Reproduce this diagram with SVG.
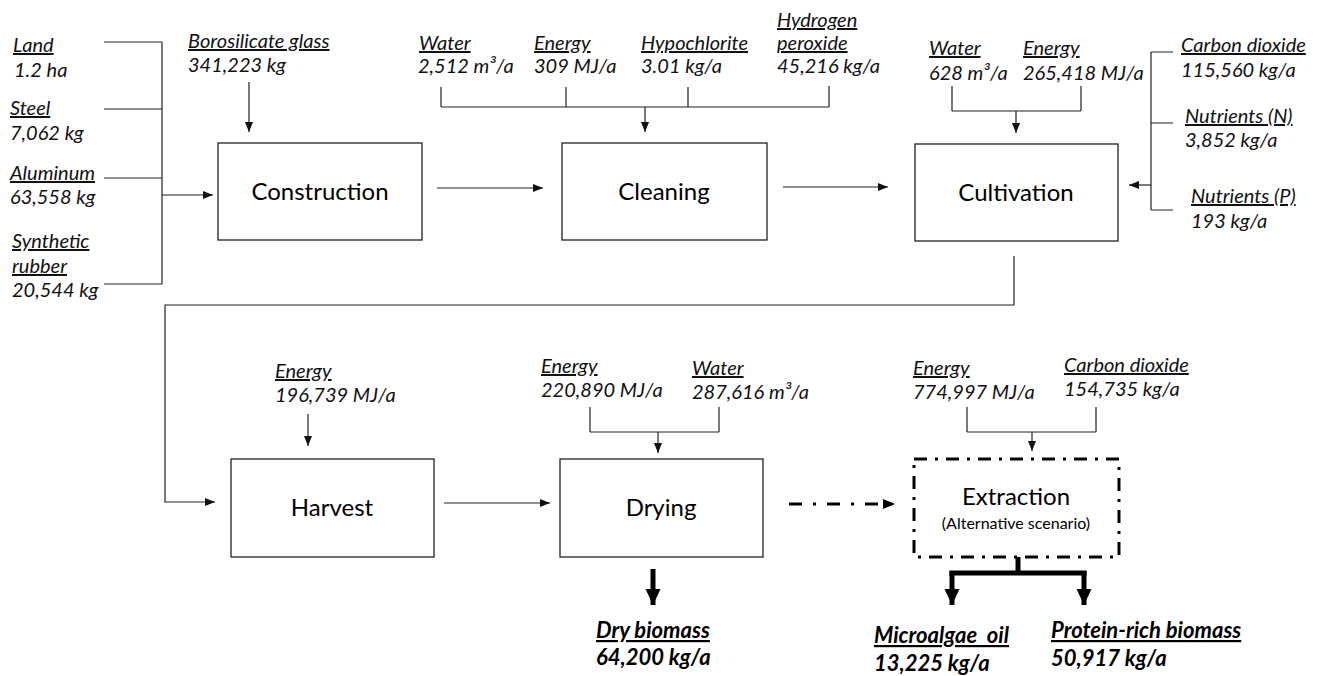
<svg xmlns="http://www.w3.org/2000/svg" width="1317" height="676" viewBox="0 0 1317 676">
<style>
.lbl{font-family:Lato,"Liberation Sans",sans-serif;font-style:italic;font-size:20px;fill:#111}
.u{text-decoration:underline}
.out{font-family:Lato,"Liberation Sans",sans-serif;font-style:italic;font-weight:bold;font-size:22px;fill:#000}
.box{fill:#fff;stroke:#222;stroke-width:1.3}
.dbox{fill:#fff;stroke:#000;stroke-width:3;stroke-dasharray:13 8 3 8}
.name{font-family:Lato,"Liberation Sans",sans-serif;font-size:24px;fill:#000;text-anchor:middle}
.sub{font-family:Lato,"Liberation Sans",sans-serif;font-size:16px;fill:#000;text-anchor:middle}
.ln{fill:none;stroke:#222;stroke-width:1.2}
.ar{fill:none;stroke:#222;stroke-width:1.2;marker-end:url(#ah)}
.thick{fill:none;stroke:#000;stroke-width:5}
.tar{fill:none;stroke:#000;stroke-width:5;marker-end:url(#th)}
.dd{fill:none;stroke:#000;stroke-width:3;stroke-dasharray:13 11 3 11;marker-end:url(#dh)}
</style>
<defs>
<marker id="ah" markerUnits="userSpaceOnUse" markerWidth="10" markerHeight="10" viewBox="0 0 10 10" refX="10" refY="5" orient="auto"><path d="M0,1 L10,5 L0,9 Z" fill="#111"/></marker>
<marker id="th" markerUnits="userSpaceOnUse" markerWidth="16" markerHeight="16" viewBox="0 0 16 16" refX="16" refY="8" orient="auto"><path d="M0,0.5 L16,8 L0,15.5 Z" fill="#000"/></marker>
<marker id="dh" markerUnits="userSpaceOnUse" markerWidth="12" markerHeight="12" viewBox="0 0 12 12" refX="12" refY="6" orient="auto"><path d="M0,1 L12,6 L0,11 Z" fill="#000"/></marker>
</defs>
<rect width="1317" height="676" fill="#fff"/>

<g id="connectors">
<path class="ln" d="M104,42 H162 M104,109 H162 M104,178 H162 M104,284 H162 M162,42 V284"/>
<path class="ar" d="M162,195 H213"/>
<path class="ar" d="M249,82 V132"/>
<path class="ar" d="M437,188 H543"/>
<path class="ln" d="M441,87 V107 M566,87 V107 M688,87 V107 M829,86 V107 M441,107 H829"/>
<path class="ar" d="M645,107 V132"/>
<path class="ar" d="M783,187 H888"/>
<path class="ln" d="M952,86 V111 M1081,86 V111 M952,111 H1081"/>
<path class="ar" d="M1016,111 V133"/>
<path class="ln" d="M1151,52 H1173 M1151,123 H1173 M1151,210 H1173 M1151,52 V210"/>
<path class="ar" d="M1151,185 H1129"/>
<path class="ar" d="M1014,256 V305 H165 V502 H215"/>
<path class="ar" d="M308,414 V446"/>
<path class="ar" d="M444,503 H550"/>
<path class="ln" d="M590,407 V432 M719,407 V432 M590,432 H719"/>
<path class="ar" d="M658,432 V453"/>
<path class="tar" d="M653,569 V605"/>
<path class="dd" d="M789,504 H895"/>
<path class="ln" d="M967,407 V432 M1096,407 V432 M967,432 H1096"/>
<path class="ar" d="M1032,432 V451"/>
<path class="thick" d="M1018,557 V573 M949.5,573 H1086.5"/>
<path class="tar" d="M952,571 V605"/>
<path class="tar" d="M1084,571 V605"/>
</g>

<g id="construction"><rect class="box" x="218" y="143" width="204" height="97"/><text class="name" x="320" y="200">Construction</text></g>
<g id="cleaning"><rect class="box" x="562" y="143" width="205" height="97"/><text class="name" x="664" y="200">Cleaning</text></g>
<g id="cultivation"><rect class="box" x="915" y="144" width="203" height="97"/><text class="name" x="1016" y="201">Cultivation</text></g>
<g id="harvest"><rect class="box" x="231" y="459" width="203" height="98"/><text class="name" x="332" y="516">Harvest</text></g>
<g id="drying"><rect class="box" x="560" y="459" width="203" height="98"/><text class="name" x="661" y="516">Drying</text></g>
<g id="extraction"><rect class="dbox" x="914" y="459" width="205" height="98"/><text class="name" x="1016" y="505">Extraction</text><text class="sub" x="1016" y="529">(Alternative scenario)</text></g>

<g id="construction-inputs">
<text class="lbl" x="13" y="52"><tspan class="u">Land</tspan></text>
<text class="lbl" x="14" y="77">1.2 ha</text>
<text class="lbl" x="10" y="115"><tspan class="u">Steel</tspan></text>
<text class="lbl" x="10" y="140">7,062 kg</text>
<text class="lbl" x="10" y="180"><tspan class="u">Aluminum</tspan></text>
<text class="lbl" x="10" y="204">63,558 kg</text>
<text class="lbl" x="12" y="248"><tspan class="u">Synthetic</tspan></text>
<text class="lbl" x="12" y="273"><tspan class="u">rubber</tspan></text>
<text class="lbl" x="12" y="297">20,544 kg</text>
<text class="lbl" x="188" y="48"><tspan class="u">Borosilicate glass</tspan></text>
<text class="lbl" x="188" y="72">341,223 kg</text>
</g>

<g id="cleaning-inputs">
<text class="lbl" x="419" y="50"><tspan class="u">Water</tspan></text>
<text class="lbl" x="418" y="73">2,512 m³/a</text>
<text class="lbl" x="534" y="50"><tspan class="u">Energy</tspan></text>
<text class="lbl" x="534" y="73">309 MJ/a</text>
<text class="lbl" x="641" y="50"><tspan class="u">Hypochlorite</tspan></text>
<text class="lbl" x="641" y="73">3.01 kg/a</text>
<text class="lbl" x="777" y="27"><tspan class="u">Hydrogen</tspan></text>
<text class="lbl" x="777" y="50"><tspan class="u">peroxide</tspan></text>
<text class="lbl" x="777" y="73">45,216 kg/a</text>
</g>

<g id="cultivation-inputs">
<text class="lbl" x="929" y="55"><tspan class="u">Water</tspan></text>
<text class="lbl" x="929" y="80">628 m³/a</text>
<text class="lbl" x="1023" y="55"><tspan class="u">Energy</tspan></text>
<text class="lbl" x="1023" y="80">265,418 MJ/a</text>
<text class="lbl" x="1181" y="52"><tspan class="u">Carbon dioxide</tspan></text>
<text class="lbl" x="1181" y="77">115,560 kg/a</text>
<text class="lbl" x="1185" y="123"><tspan class="u">Nutrients (N)</tspan></text>
<text class="lbl" x="1185" y="147">3,852 kg/a</text>
<text class="lbl" x="1191" y="203"><tspan class="u">Nutrients (P)</tspan></text>
<text class="lbl" x="1191" y="228">193 kg/a</text>
</g>

<g id="harvest-inputs">
<text class="lbl" x="275" y="378"><tspan class="u">Energy</tspan></text>
<text class="lbl" x="275" y="402">196,739 MJ/a</text>
</g>

<g id="drying-inputs">
<text class="lbl" x="541" y="373"><tspan class="u">Energy</tspan></text>
<text class="lbl" x="541" y="397">220,890 MJ/a</text>
<text class="lbl" x="692" y="375"><tspan class="u">Water</tspan></text>
<text class="lbl" x="692" y="399">287,616 m³/a</text>
</g>

<g id="extraction-inputs">
<text class="lbl" x="913" y="375"><tspan class="u">Energy</tspan></text>
<text class="lbl" x="913" y="399">774,997 MJ/a</text>
<text class="lbl" x="1064" y="372"><tspan class="u">Carbon dioxide</tspan></text>
<text class="lbl" x="1064" y="396">154,735 kg/a</text>
</g>

<g id="outputs">
<text class="out" x="596" y="638"><tspan class="u">Dry biomass</tspan></text>
<text class="out" x="596" y="665">64,200 kg/a</text>
<text class="out" x="874" y="643" xml:space="preserve"><tspan class="u">Microalgae  oil</tspan></text>
<text class="out" x="874" y="671">13,225 kg/a</text>
<text class="out" x="1051" y="638"><tspan class="u">Protein-rich biomass</tspan></text>
<text class="out" x="1051" y="666">50,917 kg/a</text>
</g>
</svg>
